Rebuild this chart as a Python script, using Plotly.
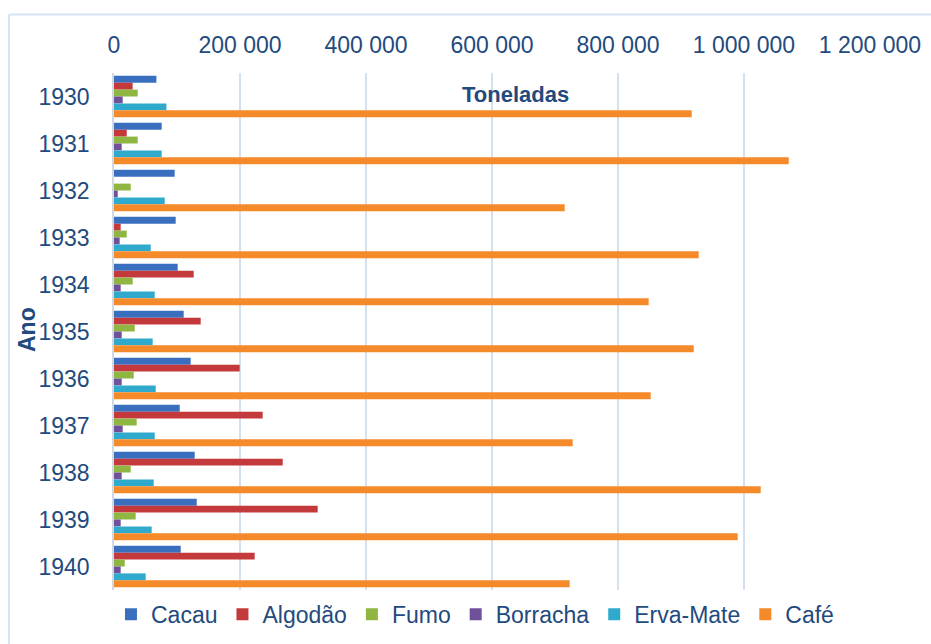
import plotly.graph_objects as go

anos = ["1930", "1931", "1932", "1933", "1934", "1935", "1936", "1937", "1938", "1939", "1940"]
cacau = [67300, 75700, 96300, 97900, 101100, 110600, 121700, 104300, 128100, 131300, 105900]
algodao = [29600, 20200, 0, 10600, 126500, 137600, 199500, 236000, 267800, 323300, 223300]
fumo = [37600, 37600, 26500, 20200, 29700, 32900, 31300, 36000, 26500, 34400, 17000]
borracha = [13800, 12200, 5900, 9000, 10600, 12200, 12200, 13800, 12200, 10600, 10600]
erva_mate = [83200, 75700, 80500, 58300, 64600, 61400, 66200, 64600, 63000, 59800, 50300]
cafe = [917000, 1071000, 715400, 928100, 848700, 920200, 851900, 728100, 1026500, 990000, 723300]

series = [
    ("Cacau", cacau, "#3A6FBF"),
    ("Algodão", algodao, "#C4393B"),
    ("Fumo", fumo, "#8FB640"),
    ("Borracha", borracha, "#71509B"),
    ("Erva-Mate", erva_mate, "#2FAACD"),
    ("Café", cafe, "#F58A2A"),
]

TXT = "#234A7D"
FONT = "Liberation Sans, Arial, sans-serif"

fig = go.Figure()
for name, vals, col in series:
    fig.add_trace(go.Bar(
        name=name, y=anos, x=vals, orientation="h",
        marker=dict(color=col, line=dict(width=0)),
    ))

fig.update_layout(
    width=931, height=644,
    margin=dict(l=114, r=61, t=73, b=54, autoexpand=False),
    paper_bgcolor="white", plot_bgcolor="white",
    barmode="group", bargap=0.12, bargroupgap=0,
    separators=", ",
    font=dict(family=FONT, size=23, color=TXT),
    showlegend=True,
    legend=dict(
        orientation="h", x=-0.004, xanchor="left", y=-0.047, yanchor="middle",
        font=dict(family=FONT, size=23, color=TXT),
        bgcolor="rgba(0,0,0,0)", itemwidth=30, traceorder="normal",
    ),
    xaxis=dict(
        side="top", range=[0, 1200000], dtick=200000, tickformat=",d",
        showgrid=True, gridcolor="#D5E0EE", gridwidth=1.5,
        zeroline=False, showline=False, ticks="",
        tickfont=dict(family=FONT, size=23, color=TXT),
        ticklabelstandoff=14,
    ),
    yaxis=dict(
        type="category", autorange="reversed",
        showgrid=False, zeroline=False,
        showline=True, linecolor="#D3D9E2", linewidth=1.5,
        ticks="", ticklabelstandoff=18,
        tickfont=dict(family=FONT, size=23, color=TXT),
    ),
    annotations=[
        dict(text="<b>Toneladas</b>", xref="paper", yref="paper",
             x=0.531, y=0.959, xanchor="center", yanchor="middle",
             showarrow=False, font=dict(family=FONT, size=22, color=TXT)),
        dict(text="<b>Ano</b>", xref="paper", yref="paper",
             x=-0.115, y=0.503, xanchor="center", yanchor="middle",
             textangle=-90, showarrow=False,
             font=dict(family=FONT, size=23, color=TXT)),
    ],
    shapes=[
        dict(type="line", xref="paper", yref="paper",
             x0=-0.139, x1=1.2, y0=1.1132, y1=1.1132,
             line=dict(color="#D6E3F3", width=2)),
        dict(type="line", xref="paper", yref="paper",
             x0=-0.139, x1=-0.139, y0=1.1132, y1=-0.2,
             line=dict(color="#D6E3F3", width=2)),
    ],
)

fig.write_html("out.html")
